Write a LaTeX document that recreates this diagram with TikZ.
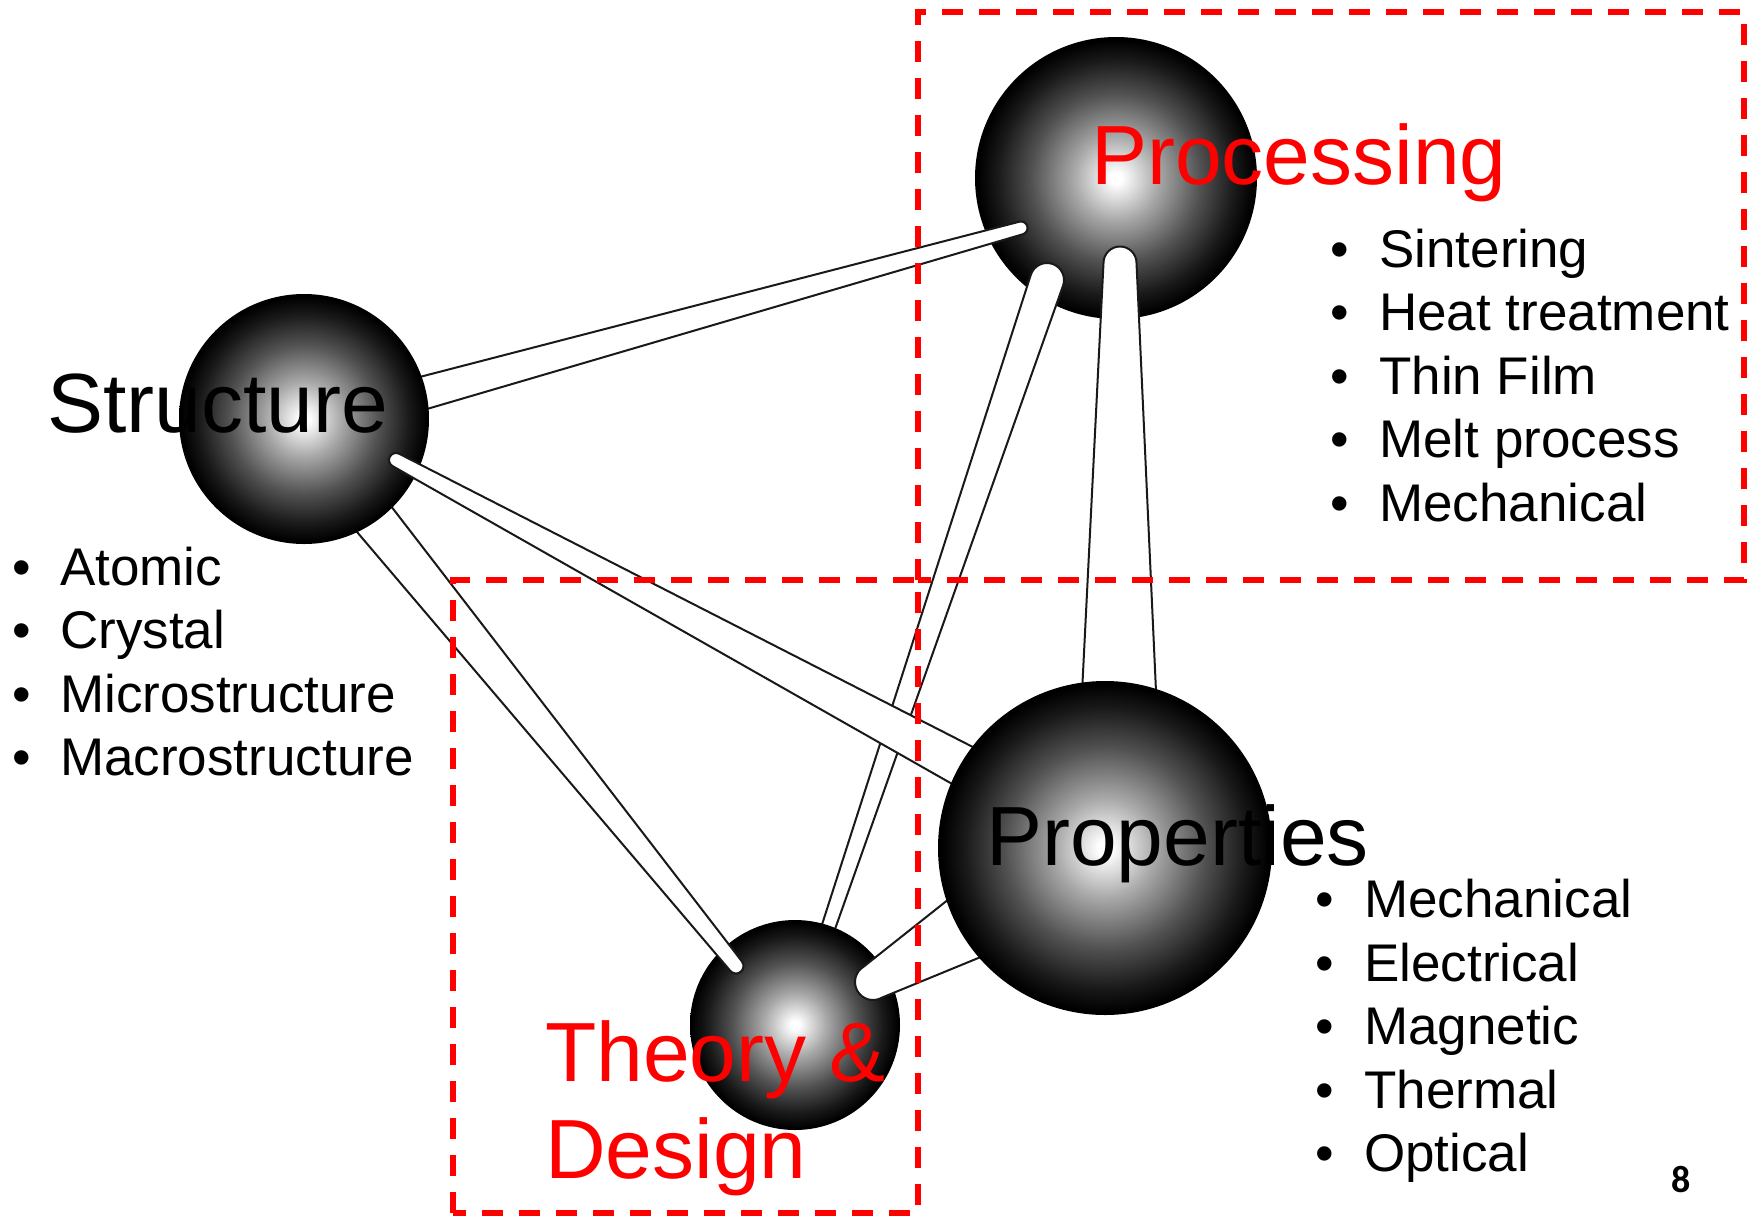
\documentclass[tikz,border=0pt]{standalone}
\usepackage{fontspec}
\setmainfont{Liberation Sans}
\newfontfamily\numfont{Carlito}
\usetikzlibrary{calc}
\pgfdeclareradialshading{sphereshade}{\pgfpoint{0bp}{0bp}}{color(0bp)=(white); color(1bp)=(white); color(7.5bp)=(black!34); color(15bp)=(black!68); color(21bp)=(black!90); color(24.5bp)=(black); color(50bp)=(black)}
\newcommand\drawstick[4]{%
  \draw[stick] let \p1=($(#2)-(#1)$), \n1={atan2(\y1,\x1)} in
    ($(#1)!#3pt!90:(#2)$) -- ($(#2)!#4pt!-90:(#1)$) -- ($(#2)!#4pt!90:(#1)$) -- ($(#1)!#3pt!-90:(#2)$)
    arc[start angle=\n1-90, delta angle=-180, radius=#3pt] -- cycle;}
\begin{document}
\begin{tikzpicture}[x=1pt,y=-1pt,
  ball/.style={circle, inner sep=0pt, outer sep=0pt, shading=sphereshade},
  stick/.style={fill=white, draw=black!90, line width=2pt, line join=round},
  redbox/.style={draw=red, line width=5.5pt, dash pattern=on 21pt off 16pt},
  big/.style={inner sep=0pt, anchor=base west, font=\fontsize{84}{97}\selectfont},
  item/.style={inner sep=0pt, anchor=base west, font=\fontsize{53}{64}\selectfont},
  dot/.style={inner sep=0pt, anchor=base, font=\fontsize{53}{64}\selectfont}]
\useasboundingbox (0,0) rectangle (1751,1216);

% stick end points
\coordinate (spA) at (1021,228);  \coordinate (spB) at (387,403);
\coordinate (tpA) at (1047,280);  \coordinate (tpB) at (820,952);
\coordinate (ppA) at (1120,263);  \coordinate (ppB) at (1119,713);
\coordinate (stA) at (736,966);   \coordinate (stB) at (357,498);
\coordinate (rtA) at (873,982);   \coordinate (rtB) at (989,914);
\coordinate (srA) at (396,460);   \coordinate (srB) at (995,783);

% Processing sphere
\node[ball, minimum size=282pt] (P) at (1116,178) {};
\drawstick{spA}{spB}{6.5}{17}
\drawstick{tpA}{tpB}{17}{6.5}
\drawstick{ppA}{ppB}{16.5}{38}
% Theory sphere
\node[ball, minimum size=210pt] (T) at (795,1025) {};
\drawstick{stA}{stB}{7.5}{22}
\drawstick{rtA}{rtB}{18}{37}
% Structure sphere
\node[ball, minimum size=250pt] (S) at (304,419) {};
\drawstick{srA}{srB}{7}{22}
% Properties sphere
\node[ball, minimum size=334pt] (R) at (1105,848) {};

% dashed boxes
\draw[redbox] (918,580) -- (918,12) -- (1744,12) -- (1744,580) -- cycle;
\draw[redbox] (453,1213) -- (453,580) -- (918,580) -- (918,1213) -- cycle;

% main labels
\node[big] (lS) at (47,432) {Structure};
\node[big, text=red] (lP) at (1091,184) {Processing};
\node[big] (lR) at (986,865) {Properties};
\node[big, text=red] (lT1) at (545,1081) {Theory \&};
\node[big, text=red] (lT2) at (545,1178) {Design};

% Structure list
\node[dot] (bs1) at (22,585) {•}; \node[item] (is1) at (60,585) {Atomic};
\node[dot] (bs2) at (22,648) {•}; \node[item] (is2) at (60,648) {Crystal};
\node[dot] (bs3) at (22,712) {•}; \node[item] (is3) at (60,712) {Microstructure};
\node[dot] (bs4) at (22,775) {•}; \node[item] (is4) at (60,775) {Macrostructure};

% Processing list
\node[dot] (bp1) at (1340,267) {•}; \node[item] (ip1) at (1379,267) {Sintering};
\node[dot] (bp2) at (1340,330) {•}; \node[item] (ip2) at (1379,330) {Heat treatment};
\node[dot] (bp3) at (1340,394) {•}; \node[item] (ip3) at (1379,394) {Thin Film};
\node[dot] (bp4) at (1340,457) {•}; \node[item] (ip4) at (1379,457) {Melt process};
\node[dot] (bp5) at (1340,521) {•}; \node[item] (ip5) at (1379,521) {Mechanical};

% Properties list
\node[dot] (br1) at (1325,917) {•}; \node[item] (ir1) at (1364,917) {Mechanical};
\node[dot] (br2) at (1325,981) {•}; \node[item] (ir2) at (1364,981) {Electrical};
\node[dot] (br3) at (1325,1044) {•}; \node[item] (ir3) at (1364,1044) {Magnetic};
\node[dot] (br4) at (1325,1108) {•}; \node[item] (ir4) at (1364,1108) {Thermal};
\node[dot] (br5) at (1325,1171) {•}; \node[item] (ir5) at (1364,1171) {Optical};

% page number
\node[inner sep=0pt, anchor=base, font=\numfont\bfseries\fontsize{38}{40}\selectfont] (pg) at (1681,1192) {8};
\end{tikzpicture}
\end{document}
